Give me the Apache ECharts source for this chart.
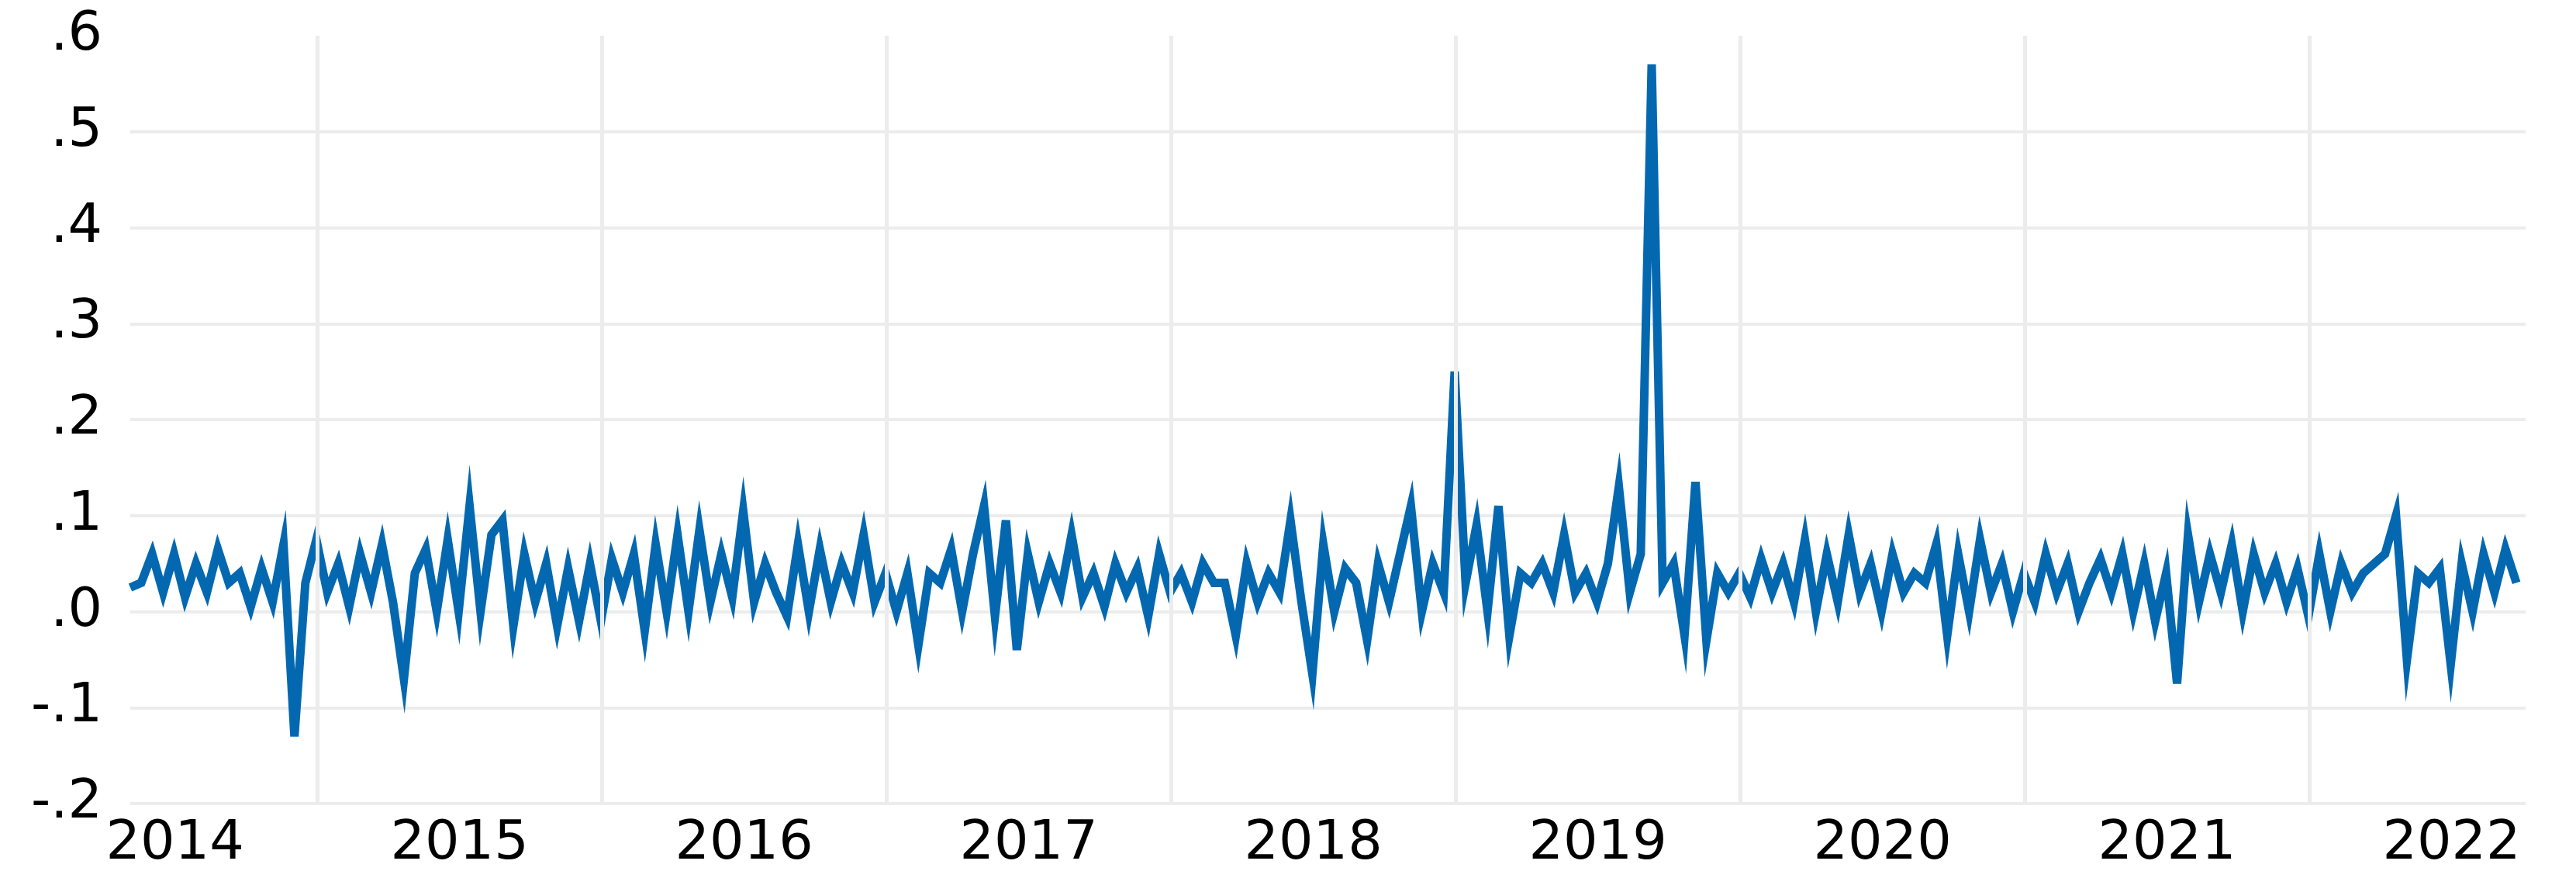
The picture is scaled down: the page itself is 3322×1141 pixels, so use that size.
<!DOCTYPE html>
<html>
<head>
<meta charset="utf-8">
<script src="https://cdn.jsdelivr.net/npm/echarts@6/dist/echarts.min.js"></script>
<style>
  html, body { margin: 0; padding: 0; background: #fff; }
  #chart { width: 3322px; height: 1141px; }
</style>
</head>
<body>
<div id="chart"></div>
<script>
// bi-weekly observations, first one at 2014.343 (decimal year)
const startYear = 2014.343;
const stepYears = 1 / 26;
const values = [
  .025, .03, .06, .02, .06, .015, .05, .02, .065, .03, .04, .005, .045, .01, .07, -.13, .03, .075, .02, .05,
  .005, .06, .02, .07, .01, -.07, .04, .065, .0, .075, .0, .11, .0, .08, .095, -.015, .06, .01, .05, -.015,
  .045, -.01, .05, -.01, .055, .02, .06, -.02, .07, .0, .08, .0, .085, .01, .06, .015, .105, .01, .05, .02,
  -.005, .07, .0, .065, .01, .05, .02, .08, .01, .04, .0, .04, -.035, .04, .03, .065, .0, .06, .11, -.005,
  .095, -.04, .06, .01, .05, .02, .08, .015, .04, .005, .05, .02, .045, -.005, .06, .02, .04, .01, .05, .03,
  .03, -.025, .05, .01, .04, .02, .095, .01, -.065, .07, .0, .045, .03, -.03, .05, .01, .06, .11, .0, .05,
  .02, .25, .03, .09, .0, .11, -.025, .04, .03, .05, .02, .08, .02, .04, .01, .05, .13, .02, .06, .57,
  .03, .05, -.025, .135, -.03, .04, .02, .04, .015, .055, .02, .05, .01, .075, .0, .06, .01, .08, .02, .05,
  .0, .06, .02, .04, .03, .07, -.025, .06, .0, .075, .02, .05, .0, .04, .01, .06, .02, .05, .0, .03,
  .055, .02, .06, .0, .05, -.01, .04, -.075, .08, .01, .06, .02, .07, .0, .06, .02, .05, .01, .045, -.005,
  .06, .0, .05, .02, .04, .05, .06, .1, -.05, .04, .03, .045, -.055, .05, .0, .06, .02, .065, .03
];
const yearLines = [2015, 2016, 2017, 2018, 2019, 2020, 2021, 2022];
const yearLabels = [2014.5, 2015.5, 2016.5, 2017.5, 2018.5, 2019.5, 2020.5, 2021.5, 2022.5];

const points = values.map((v, i) => [startYear + i * stepYears, v]);
const font = 'DejaVu Sans';
const gridGray = '#ececec';

const chart = echarts.init(document.getElementById('chart'));
chart.setOption({
  animation: false,
  grid: { left: 168, right: 65, top: 46, bottom: 105 },
  xAxis: {
    type: 'value',
    min: 2014.343,
    max: 2022.76,
    axisLine: { show: false },
    axisTick: { show: false },
    splitLine: { show: false },
    axisLabel: {
      customValues: yearLabels,
      formatter: v => String(Math.floor(v)),
      color: '#000',
      fontFamily: font,
      fontSize: 70,
      margin: 18
    }
  },
  yAxis: {
    type: 'value',
    min: -0.2,
    max: 0.6,
    interval: 0.1,
    axisLine: { show: false },
    axisTick: { show: false },
    // no line drawn at the top (.6) tick
    splitLine: { lineStyle: { color: [gridGray, gridGray, gridGray, gridGray, gridGray, gridGray, gridGray, gridGray, 'rgba(0,0,0,0)'], width: 4 } },
    axisLabel: {
      formatter: v => {
        const s = (Math.round(v * 10) / 10).toFixed(1);
        return s.replace('0.', '.');
      },
      color: '#000',
      fontFamily: font,
      fontSize: 70,
      margin: 36
    }
  },
  series: [
    {
      type: 'line',
      data: [],
      silent: true,
      z: 1,
      markLine: {
        silent: true,
        symbol: 'none',
        label: { show: false },
        lineStyle: { color: gridGray, width: 5, type: 'solid' },
        data: yearLines.map(y => ({ xAxis: y }))
      }
    },
    {
      type: 'line',
      data: points,
      z: 3,
      showSymbol: false,
      lineStyle: { color: '#0468b1', width: 11, join: 'miter' },
      itemStyle: { color: '#0468b1' }
    }
  ]
});
</script>
</body>
</html>
